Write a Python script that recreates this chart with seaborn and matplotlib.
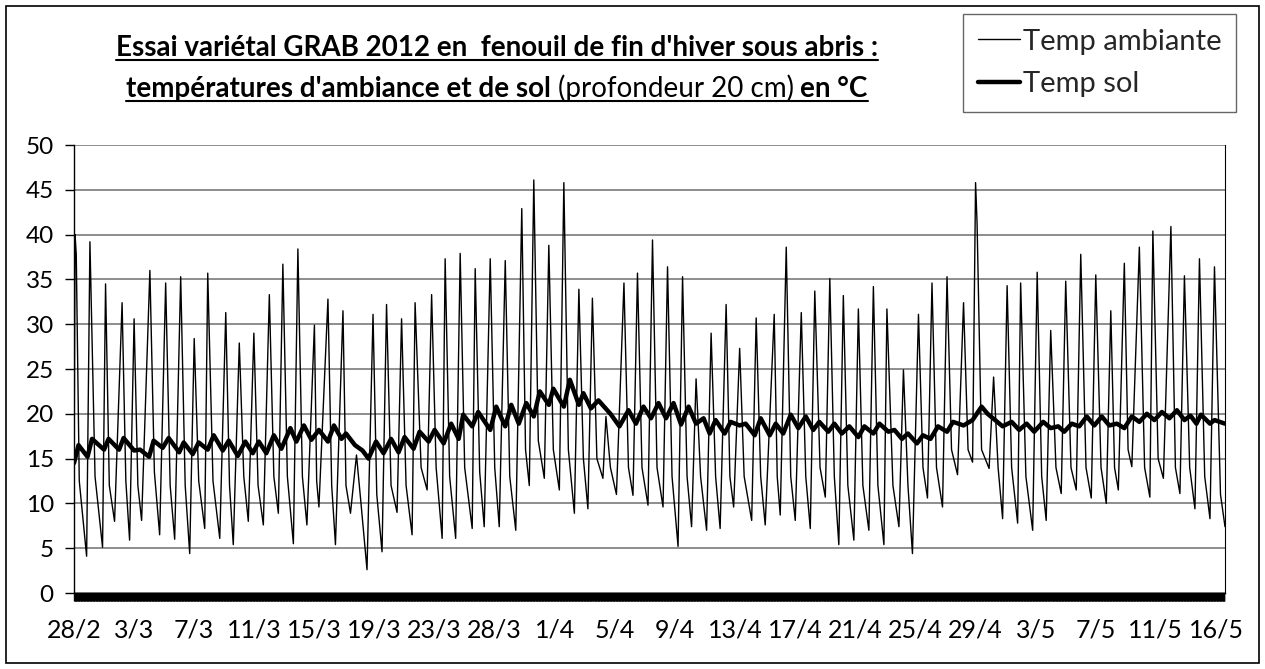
import numpy as np
import pandas as pd
import matplotlib
matplotlib.use("Agg")
import matplotlib.pyplot as plt
import seaborn as sns
from matplotlib.lines import Line2D
from matplotlib.patches import Rectangle
from matplotlib.transforms import IdentityTransform

# ---------------- data ----------------
# time axis in "day index" (0 = 28/2); ambient: successive peaks / evening shoulders / minima
amb_t = [0.0, 0.07, 0.15, 0.35, 0.84, 1.06, 1.4, 1.9, 2.1, 2.35, 2.7, 3.2, 3.45, 3.7, 4.0, 4.25, 4.5,
         5.05, 5.35, 5.7, 6.1, 6.4, 6.7, 7.1, 7.4, 7.7, 8.0, 8.3, 8.7, 8.9, 9.25, 9.7, 10.1, 10.35,
         10.6, 11.0, 11.3, 11.6, 11.97, 12.25, 12.6, 13.0, 13.3, 13.6, 13.9, 14.2, 14.6, 14.9, 15.2,
         15.5, 16.0, 16.15, 16.3, 16.9, 17.15, 17.4, 17.9, 18.1, 18.4, 18.8, 19.1, 19.5, 19.9, 20.15,
         20.5, 20.8, 21.1, 21.5, 21.8, 22.1, 22.5, 22.7, 23.1, 23.5, 23.8, 24.1, 24.5, 24.7, 25.0,
         25.4, 25.7, 26.0, 26.5, 26.7, 27.0, 27.3, 27.7, 28.0, 28.3, 28.7, 29.0, 29.4, 29.8, 30.05,
         30.3, 30.6, 30.9, 31.3, 31.6, 31.9, 32.3, 32.6, 32.9, 33.3, 33.6, 33.9, 34.2, 34.5, 34.8,
         35.2, 35.4, 35.7, 36.1, 36.6, 36.9, 37.2, 37.5, 37.8, 38.2, 38.5, 38.8, 39.2, 39.5, 39.8,
         40.2, 40.5, 40.8, 41.1, 41.4, 41.7, 42.1, 42.4, 42.7, 43.0, 43.4, 43.65, 43.9, 44.3, 44.6,
         45.1, 45.4, 45.7, 46.0, 46.6, 46.8, 47.0, 47.4, 47.7, 48.0, 48.4, 48.7, 49.0, 49.3, 49.65,
         50.0, 50.3, 50.6, 50.9, 51.2, 51.5, 51.9, 52.2, 52.5, 52.9, 53.2, 53.5, 53.9, 54.1, 54.5,
         54.9, 55.2, 55.5, 55.8, 56.2, 56.5, 56.8, 57.1, 57.4, 57.8, 58.1, 58.4, 58.8, 59.2, 59.5,
         59.8, 60.0, 60.1, 60.4, 60.9, 61.2, 61.5, 61.8, 62.1, 62.4, 62.8, 63.0, 63.35, 63.8, 64.1,
         64.4, 64.7, 65.0, 65.35, 65.7, 66.0, 66.35, 66.7, 67.0, 67.35, 67.7, 68.0, 68.35, 68.7,
         69.0, 69.25, 69.5, 69.9, 70.15, 70.4, 70.9, 71.25, 71.6, 71.8, 72.15, 72.5, 73.0, 73.3,
         73.6, 73.9, 74.25, 74.6, 74.9, 75.25, 75.6, 75.9, 76.3, 76.6]
amb_v = [11.5, 40.0, 37.8, 12.5, 4.1, 39.2, 13.0, 5.1, 34.5, 12.0, 8.0, 32.4, 12.5, 5.9, 30.6, 12.0, 8.1,
         36.0, 13.5, 6.5, 34.6, 12.0, 6.0, 35.3, 12.0, 4.4, 28.4, 12.5, 7.2, 35.7, 12.5, 6.1, 31.3, 12.0,
         5.4, 27.9, 13.0, 8.0, 29.0, 12.0, 7.6, 33.3, 13.0, 8.9, 36.7, 13.0, 5.5, 38.4, 13.0,
         7.6, 29.9, 12.5, 9.6, 32.8, 12.0, 5.4, 31.5, 12.0, 8.9, 15.4, 10.0, 2.6, 31.1, 11.0,
         4.6, 32.2, 12.0, 9.0, 30.6, 12.0, 6.5, 32.4, 14.0, 11.5, 33.3, 14.0, 6.1, 37.3, 13.0,
         6.1, 37.9, 14.0, 7.2, 36.2, 13.5, 7.4, 37.3, 14.0, 7.4, 37.1, 13.0, 7.0, 42.9, 16.0,
         12.0, 46.1, 17.0, 12.8, 38.8, 16.0, 11.5, 45.8, 16.0, 8.9, 33.9, 15.0, 9.4, 32.9, 15.0,
         12.8, 19.7, 14.0, 11.0, 34.6, 14.0, 10.9, 35.7, 14.0, 9.8, 39.4, 14.0, 9.6, 36.4, 13.0,
         5.2, 35.3, 13.0, 7.4, 23.9, 13.0, 7.0, 29.0, 13.0, 7.2, 32.2, 13.0, 9.6, 27.3, 13.0,
         8.1, 30.7, 13.0, 7.6, 31.1, 13.0, 8.7, 38.6, 13.0, 8.1, 31.3, 13.0, 7.2, 33.7, 14.0,
         10.7, 35.1, 13.0, 5.4, 33.2, 12.0, 5.9, 31.7, 12.0, 7.0, 34.2, 12.0, 5.4, 31.7, 12.0,
         7.4, 24.9, 12.0, 4.4, 31.1, 14.0, 10.6, 34.6, 14.0, 9.6, 35.3, 16.0, 13.2, 32.4, 16.0,
         14.6, 45.8, 41.3, 16.0, 13.9, 24.1, 14.0, 8.3, 34.3, 14.0, 7.8, 34.6, 13.0, 7.0, 35.8,
         13.0, 8.1, 29.3, 14.0, 11.1, 34.8, 14.0, 11.5, 37.8, 14.0, 10.6, 35.5, 14.0, 10.0,
         31.5, 14.0, 11.5, 36.8, 16.0, 14.1, 38.6, 14.0, 10.7, 40.4, 15.0, 12.8, 40.9, 14.0,
         11.1, 35.4, 14.0, 9.4, 37.3, 13.0, 8.3, 36.4, 11.0, 7.4]

# soil temperature (20 cm depth)
sol_t = [0.0, 0.3, 0.9, 1.2, 2.0, 2.3, 3.0, 3.3, 4.0, 4.4, 5.0, 5.3, 5.9, 6.3, 7.0, 7.3, 7.9,
         8.3, 8.9, 9.3, 9.9, 10.3, 10.9, 11.4, 11.9, 12.3, 12.8, 13.3, 13.8, 14.4, 14.8, 15.3,
         15.8, 16.3, 16.9, 17.3, 17.8, 18.1, 18.7, 19.2, 19.6, 20.1, 20.6, 21.1, 21.6, 22.0,
         22.6, 23.0, 23.6, 24.0, 24.6, 25.1, 25.6, 25.9, 26.5, 26.9, 27.7, 28.1, 28.7, 29.1,
         29.6, 30.1, 30.6, 31.0, 31.6, 31.9, 32.6, 33.0, 33.6, 33.9, 34.4, 34.9, 35.7, 36.3,
         36.9, 37.4, 37.9, 38.4, 38.9, 39.4, 39.9, 40.4, 40.9, 41.4, 41.9, 42.3, 42.7, 43.3,
         43.7, 44.3, 44.7, 45.3, 45.7, 46.3, 46.7, 47.2, 47.7, 48.2, 48.7, 49.2, 49.6, 50.2,
         50.6, 51.1, 51.6, 52.2, 52.6, 53.2, 53.6, 54.2, 54.6, 55.1, 55.5, 56.1, 56.5, 57.0,
         57.5, 58.1, 58.5, 59.2, 59.8, 60.4, 60.8, 61.3, 61.8, 62.4, 62.9, 63.4, 63.9, 64.5,
         65.0, 65.5, 65.9, 66.4, 66.9, 67.4, 67.9, 68.4, 68.9, 69.4, 69.9, 70.4, 70.9, 71.4,
         71.9, 72.4, 72.9, 73.4, 73.9, 74.3, 74.7, 75.0, 75.6, 75.9, 76.6]
sol_v = [14.5, 16.5, 15.2, 17.2, 16.0, 17.2, 16.0, 17.3, 15.9, 16.0, 15.2, 17.0, 16.2, 17.3, 15.7,
         16.8, 15.5, 16.8, 16.0, 17.6, 15.9, 17.0, 15.3, 16.9, 15.6, 16.9, 15.6, 17.6, 16.1, 18.4,
         16.9, 18.7, 17.1, 18.2, 16.9, 18.7, 17.2, 17.8, 16.5, 15.9, 15.0, 16.9, 15.6, 17.2, 15.7,
         17.4, 16.1, 18.0, 16.9, 18.2, 16.7, 18.9, 17.2, 19.9, 18.6, 20.2, 18.2, 20.8, 18.6, 21.0,
         18.9, 21.2, 19.7, 22.5, 21.0, 22.8, 20.8, 23.8, 21.0, 22.3, 20.6, 21.5, 20.0, 18.6,
         20.4, 18.9, 20.8, 19.5, 21.2, 19.5, 21.2, 18.8, 20.8, 18.9, 19.5, 17.8, 19.3, 17.8,
         19.1, 18.7, 18.9, 17.6, 19.5, 17.6, 18.9, 17.8, 19.9, 18.4, 19.7, 18.2, 19.1, 18.0,
         18.9, 17.8, 18.6, 17.4, 18.6, 17.8, 18.9, 18.0, 18.2, 17.2, 17.8, 16.7, 17.6, 17.2,
         18.6, 18.0, 19.1, 18.7, 19.3, 20.8, 20.0, 19.3, 18.6, 19.1, 18.2, 18.9, 18.0, 19.1,
         18.4, 18.6, 18.0, 18.9, 18.6, 19.7, 18.7, 19.7, 18.7, 18.9, 18.4, 19.7, 19.1, 20.0,
         19.3, 20.2, 19.5, 20.4, 19.3, 19.8, 18.9, 19.9, 18.9, 19.3, 18.9]

tick_labels = ["28/2", "3/3", "7/3", "11/3", "15/3", "19/3", "23/3", "28/3", "1/4", "5/4",
               "9/4", "13/4", "17/4", "21/4", "25/4", "29/4", "3/5", "7/5", "11/5", "16/5"]
tick_pos = list(range(0, 4 * len(tick_labels), 4))
y_ticks = list(range(0, 51, 5))

series_names = ["Temp ambiante", "Temp sol"]
title_line1 = [("Essai variétal GRAB 2012 en  fenouil de fin d'hiver sous abris :", "bold")]
title_line2 = [("températures d'ambiance et de sol", "bold"),
               ("(profondeur 20 cm)", "normal"),
               ("en °C", "bold")]

# ---------------- figure ----------------
sns.set_theme(style="white")
plt.rcParams['font.family'] = ['Lato', 'DejaVu Sans']

W, H = 1265, 669
fig = plt.figure(figsize=(W / 100, H / 100), dpi=100)
fig.patch.set_facecolor("white")
ax = fig.add_axes([74 / W, 1 - 593 / H, (1225 - 74) / W, (593 - 145) / H])

df_a = pd.DataFrame({"t": amb_t, "temp": amb_v})
df_s = pd.DataFrame({"t": sol_t, "temp": sol_v})
sns.lineplot(data=df_a, x="t", y="temp", ax=ax, color="black", linewidth=1.0,
             estimator=None, label=series_names[0])
sns.lineplot(data=df_s, x="t", y="temp", ax=ax, color="black", linewidth=3.2,
             estimator=None, label=series_names[1])

ax.set_xlim(0, 76.6)
ax.set_ylim(0, 50)
ax.set_yticks(y_ticks)
ax.set_xticks(tick_pos)
ax.set_xticklabels(tick_labels)
ax.set_xticks(np.arange(0, 76.6, 0.04), minor=True)
ax.set_xlabel("")
ax.set_ylabel("")
ax.tick_params(axis="x", which="both", direction="out", length=6, width=1,
               color="black", bottom=True)
ax.tick_params(axis="x", which="major", pad=12, labelsize=18, labelcolor="black")
ax.tick_params(axis="y", direction="out", length=6.5, width=1, color="black",
               left=True, pad=8, labelsize=17.5, labelcolor="black")
ax.yaxis.grid(True, color="#858585", linewidth=1.3)
ax.xaxis.grid(False)
ax.set_axisbelow(True)
ax.spines["top"].set_visible(False)
ax.spines["left"].set_color("black")
ax.spines["left"].set_linewidth(1.0)
ax.spines["bottom"].set_color("black")
ax.spines["bottom"].set_linewidth(1.0)
ax.spines["right"].set_color("black")
ax.spines["right"].set_linewidth(0.8)

leg = ax.legend(loc="upper left", bbox_to_anchor=(963 / W, 1 - 14 / H),
                bbox_transform=fig.transFigure, frameon=True, fancybox=False,
                fontsize=21, handlelength=1.45, handletextpad=0.1, labelspacing=0.58,
                borderpad=0.5, borderaxespad=0)
leg.get_frame().set_edgecolor("#404040")
leg.get_frame().set_linewidth(1.0)

# outer chart border
fig.add_artist(Rectangle((6 / W, 6 / H), 1 - 12 / W, 1 - 12 / H, transform=fig.transFigure,
                         fill=False, edgecolor="black", linewidth=1.2))

# title with underline
FS_T = 20
renderer = fig.canvas.get_renderer()


def text_width(s, w):
    t = fig.text(0, 0, s, transform=IdentityTransform(), fontsize=FS_T, fontweight=w)
    wd = t.get_window_extent(renderer).width
    t.remove()
    return wd


def title_line(pieces, cx, base_from_top):
    sp = text_width("x x", "bold") - text_width("xx", "bold")
    ws = [text_width(s, w) for s, w in pieces]
    total = sum(ws) + sp * (len(pieces) - 1)
    x = cx - total / 2
    yb = H - base_from_top
    for (s, w), wd in zip(pieces, ws):
        fig.text(x, yb, s, transform=IdentityTransform(), fontsize=FS_T, fontweight=w,
                 ha="left", va="baseline", color="black")
        x += wd + sp
    fig.add_artist(Line2D([cx - total / 2, cx + total / 2], [yb - 4, yb - 4],
                          transform=IdentityTransform(), color="black", linewidth=1.5))


title_line(title_line1, 497, 56)
title_line(title_line2, 497, 97)

fig.savefig("out.png", dpi=100)
